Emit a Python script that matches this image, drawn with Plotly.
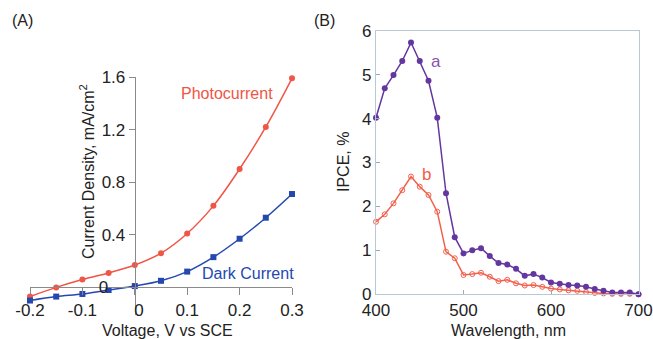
import plotly.graph_objects as go

# ---- Panel A data ----
voltage = [-0.2, -0.15, -0.1, -0.05, 0.0, 0.05, 0.1, 0.15, 0.2, 0.25, 0.3]
photocurrent = [-0.07, 0.0, 0.06, 0.11, 0.17, 0.26, 0.41, 0.62, 0.90, 1.22, 1.59]
dark_current = [-0.10, -0.07, -0.05, -0.02, 0.01, 0.05, 0.12, 0.23, 0.37, 0.53, 0.71]
a_xticks = [-0.2, -0.1, 0, 0.1, 0.2, 0.3]
a_xticklabels = ["-0.2", "-0.1", "\u20020", "0.1", "0.2", "0.3"]
a_yticks = [0, 0.4, 0.8, 1.2, 1.6]
a_yticklabels = ["0\u2003", "0.4", "0.8", "1.2", "1.6"]

# ---- Panel B data ----
wavelength = list(range(400, 701, 10))
ipce_a = [4.02, 4.69, 4.99, 5.31, 5.73, 5.31, 4.86, 4.02, 2.30, 1.30, 0.93,
          1.00, 1.05, 0.87, 0.71, 0.68, 0.58, 0.42, 0.46, 0.38, 0.27, 0.24,
          0.21, 0.20, 0.17, 0.12, 0.08, 0.04, 0.04, 0.04, 0.00]
ipce_b = [1.65, 1.82, 2.07, 2.37, 2.68, 2.45, 2.26, 1.88, 0.97, 0.82, 0.44,
          0.46, 0.49, 0.40, 0.30, 0.33, 0.25, 0.20, 0.21, 0.17, 0.13, 0.11,
          0.09, 0.08, 0.05, 0.03, 0.02, 0.01, 0.01, 0.01, 0.00]
b_xticks = [400, 500, 600, 700]
b_yticks = [0, 1, 2, 3, 4, 5, 6]

RED = "#f05545"
BLUE = "#2448b0"
PURPLE = "#6436a0"
RED_B = "#f2604c"
AXIS = "#8a8a8a"
FONT = "Liberation Sans, Arial, sans-serif"

W, H = 653, 339
# panel A geometry (paper fractions)
ax_dom = [30 / W, 292 / W]
ay_dom = [1 - 315 / H, 1 - 77 / H]
ax_rng = [-0.2, 0.3]
ay_rng = [-0.21, 1.6]
yaxis_pos = ax_dom[0] + (0 - ax_rng[0]) / (ax_rng[1] - ax_rng[0]) * (ax_dom[1] - ax_dom[0])
xaxis_pos = ay_dom[0] + (0 - ay_rng[0]) / (ay_rng[1] - ay_rng[0]) * (ay_dom[1] - ay_dom[0])

fig = go.Figure()

fig.add_trace(go.Scatter(x=voltage, y=photocurrent, mode="lines+markers",
                         line=dict(color=RED, width=1.5, shape="spline"),
                         marker=dict(symbol="circle", size=6, color=RED),
                         cliponaxis=False, xaxis="x", yaxis="y"))
fig.add_trace(go.Scatter(x=voltage, y=dark_current, mode="lines+markers",
                         line=dict(color=BLUE, width=1.5, shape="spline"),
                         marker=dict(symbol="square", size=6, color=BLUE),
                         cliponaxis=False, xaxis="x", yaxis="y"))

fig.add_trace(go.Scatter(x=wavelength, y=ipce_b, mode="lines+markers",
                         line=dict(color=RED_B, width=1.5),
                         marker=dict(symbol="circle-open", size=5, color=RED_B,
                                     line=dict(width=1)),
                         cliponaxis=False, xaxis="x2", yaxis="y2"))
fig.add_trace(go.Scatter(x=wavelength, y=ipce_a, mode="lines+markers",
                         line=dict(color=PURPLE, width=1.5),
                         marker=dict(symbol="circle", size=6, color=PURPLE),
                         cliponaxis=False, xaxis="x2", yaxis="y2"))

tickfont = dict(family=FONT, size=17, color="#222")

fig.update_layout(
    width=W, height=H, autosize=False,
    margin=dict(l=0, r=0, t=0, b=0, autoexpand=False),
    paper_bgcolor="white", plot_bgcolor="white",
    showlegend=False,
    xaxis=dict(domain=ax_dom, range=ax_rng, anchor="free", position=xaxis_pos,
               tickvals=a_xticks, ticktext=a_xticklabels, ticks="outside",
               ticklen=7, tickcolor=AXIS, showline=True, linecolor=AXIS,
               linewidth=1.2, showgrid=False, zeroline=False, tickfont=tickfont,
               automargin=False, ticklabeloverflow="allow"),
    xaxis3=dict(domain=ax_dom, range=ax_rng, anchor="free", position=xaxis_pos,
                overlaying="x", tickvals=a_xticks, ticks="inside", ticklen=7,
                tickcolor=AXIS, showticklabels=False, showline=False,
                showgrid=False, zeroline=False, automargin=False),
    yaxis=dict(domain=ay_dom, range=ay_rng, anchor="free", position=yaxis_pos,
               tickvals=a_yticks, ticktext=a_yticklabels, ticks="outside",
               ticklen=6, tickcolor=AXIS, showline=True, linecolor=AXIS,
               linewidth=1.2, showgrid=False, zeroline=False, tickfont=tickfont,
               automargin=False, ticklabeloverflow="allow"),
    xaxis2=dict(domain=[376 / W, 638.5 / W], range=[400, 700], anchor="y2",
                tickvals=b_xticks, ticks="inside", ticklen=4, tickcolor="#9ab",
                showline=True, linecolor="#b9c9d4", linewidth=1.2, mirror=True,
                showgrid=False, zeroline=False, tickfont=tickfont,
                automargin=False, ticklabeloverflow="allow"),
    yaxis2=dict(domain=[1 - 294.3 / H, 1 - 30.7 / H], range=[0, 6], anchor="x2",
                tickvals=b_yticks, ticks="inside", ticklen=4, tickcolor="#9ab",
                showline=True, linecolor="#b9c9d4", linewidth=1.2, mirror=True,
                showgrid=False, zeroline=False, tickfont=tickfont,
                automargin=False, ticklabeloverflow="allow"),
)

ann_font = dict(family=FONT, size=16, color="#222")
annotations = [
    dict(text="(A)", x=10 / W, y=1 - 21 / H, xref="paper", yref="paper",
         xanchor="left", yanchor="middle", showarrow=False, font=ann_font),
    dict(text="(B)", x=312 / W, y=1 - 21 / H, xref="paper", yref="paper",
         xanchor="left", yanchor="middle", showarrow=False, font=ann_font),
    dict(text="Current Density, mA/cm<sup>2</sup>", x=87 / W, y=1 - 172 / H,
         xref="paper", yref="paper", textangle=-90, showarrow=False,
         xanchor="center", yanchor="middle", font=ann_font),
    dict(text="Voltage, V vs SCE", x=167 / W, y=1 - 330 / H, xref="paper",
         yref="paper", showarrow=False, xanchor="center", yanchor="middle",
         font=ann_font),
    dict(text="Photocurrent", x=275 / W, y=1 - 93 / H, xref="paper", yref="paper",
         showarrow=False, xanchor="right", yanchor="middle",
         font=dict(family=FONT, size=16, color=RED)),
    dict(text="Dark Current", x=296 / W, y=1 - 273 / H, xref="paper", yref="paper",
         showarrow=False, xanchor="right", yanchor="middle",
         font=dict(family=FONT, size=16, color=BLUE)),
    dict(text="IPCE, %", x=343 / W, y=1 - 162 / H, xref="paper", yref="paper",
         textangle=-90, showarrow=False, xanchor="center", yanchor="middle",
         font=ann_font),
    dict(text="Wavelength, nm", x=508 / W, y=1 - 330 / H, xref="paper",
         yref="paper", showarrow=False, xanchor="center", yanchor="middle",
         font=ann_font),
    dict(text="a", x=468, y=5.29, xref="x2", yref="y2", showarrow=False,
         xanchor="center", yanchor="middle",
         font=dict(family=FONT, size=17, color="#8a55b0")),
    dict(text="b", x=458, y=2.72, xref="x2", yref="y2", showarrow=False,
         xanchor="center", yanchor="middle",
         font=dict(family=FONT, size=17, color=RED_B)),
]
fig.update_layout(annotations=annotations)

fig.write_html("out.html")
